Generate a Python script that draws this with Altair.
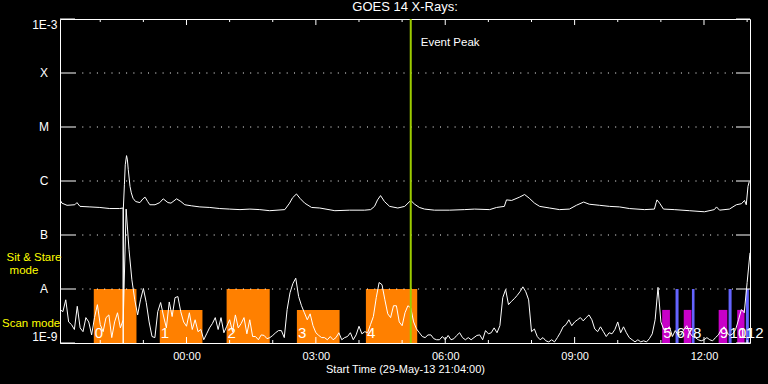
import altair as alt
import pandas as pd

FONT = "Liberation Sans"

# ---- time window: hours relative to 00:00 (30-May-13); starts 29-May-13 21:04
T_START = -2.9333
T_END = 13.0667

# ---- GOES long channel (1-8 A), log10 flux
long_hours = [-2.93, -2.89, -2.77, -2.59, -2.54, -2.47, -2.24, -2.01, -1.78, -1.55,
              -1.47, -1.468, -1.464, -1.44, -1.42, -1.39, -1.37, -1.35, -1.31, -1.28,
              -1.24, -1.18, -1.08, -1.01, -0.96, -0.90, -0.85, -0.73, -0.62, -0.54,
              -0.43, -0.36, -0.23, -0.13, -0.04, 0.12, 0.31, 0.54, 0.77, 1.00,
              1.24, 1.47, 1.70, 1.93, 2.28, 2.39, 2.46, 2.55, 2.63, 2.74,
              2.90, 3.09, 3.44, 3.78, 4.13, 4.27, 4.36, 4.43, 4.50, 4.59,
              4.71, 4.90, 5.06, 5.20, 5.29, 5.40, 5.52, 5.75, 6.10, 6.45,
              6.68, 7.03, 7.19, 7.37, 7.42, 7.54, 7.72, 7.84, 7.95, 8.07,
              8.19, 8.42, 8.65, 8.88, 9.04, 9.21, 9.34, 9.58, 9.81, 10.04,
              10.27, 10.62, 10.85, 10.89, 10.91, 10.97, 11.06, 11.31, 11.66, 12.01,
              12.24, 12.29, 12.36, 12.59, 12.75, 12.87, 12.94, 12.98, 13.02, 13.05]
long_log = [-6.35, -6.41, -6.45, -6.44, -6.40, -6.47, -6.48, -6.49, -6.51, -6.51,
            -6.50, -9.50, -6.50, -6.07, -5.70, -5.53, -5.61, -5.79, -6.10, -6.22,
            -6.32, -6.38, -6.40, -6.33, -6.30, -6.38, -6.44, -6.44, -6.40, -6.33,
            -6.40, -6.41, -6.33, -6.38, -6.44, -6.46, -6.48, -6.49, -6.51, -6.52,
            -6.53, -6.52, -6.53, -6.55, -6.53, -6.41, -6.31, -6.24, -6.32, -6.41,
            -6.49, -6.50, -6.55, -6.54, -6.54, -6.53, -6.47, -6.35, -6.27, -6.38,
            -6.47, -6.50, -6.47, -6.36, -6.43, -6.49, -6.52, -6.54, -6.54, -6.53,
            -6.52, -6.53, -6.49, -6.47, -6.35, -6.36, -6.30, -6.25, -6.32, -6.41,
            -6.47, -6.50, -6.53, -6.52, -6.45, -6.39, -6.43, -6.45, -6.47, -6.48,
            -6.51, -6.53, -6.52, -6.40, -6.35, -6.41, -6.52, -6.53, -6.55, -6.57,
            -6.53, -6.48, -6.54, -6.52, -6.44, -6.42, -6.36, -6.44, -6.10, -6.01]

# ---- GOES short channel (0.5-4 A), log10 flux, one reading every 4 minutes
SHORT_STEP_MIN = 4
short_log = [
    -8.38, -8.42, -8.20, -8.61, -8.66, -8.75, -8.32, -8.72, -8.79, -8.53,
    -8.61, -8.85, -8.53, -8.29, -8.66, -8.79, -8.53, -8.48, -8.90, -8.61,
    -8.44, -8.72, -8.57, -6.52, -7.27, -7.83, -8.20, -8.48, -8.20, -7.99,
    -8.25, -8.61, -8.88, -8.90, -8.42, -8.25, -8.50, -8.72, -8.24, -8.51,
    -8.16, -8.14, -8.42, -8.61, -8.69, -8.44, -8.75, -8.57, -8.79, -8.75,
    -8.94, -8.83, -8.72, -8.64, -8.53, -8.75, -8.53, -8.81, -8.69, -8.57,
    -8.79, -8.48, -8.72, -8.64, -8.53, -8.83, -8.57, -8.88, -8.88, -8.94,
    -8.85, -8.86, -8.92, -8.90, -8.86, -8.81, -8.77, -8.77, -8.90, -8.38,
    -8.07, -7.90, -7.80, -8.14, -8.31, -8.44, -8.57, -8.46, -8.68, -8.81,
    -8.86, -8.90, -8.90, -8.94, -8.88, -8.94, -8.90, -8.81, -8.94, -8.90,
    -8.88, -8.81, -8.94, -8.85, -8.69, -8.83, -8.79, -8.81, -8.66, -8.51,
    -8.16, -7.88, -7.92, -8.20, -8.46, -8.53, -8.31, -8.31, -8.61, -8.68,
    -8.44, -8.31, -8.35, -8.61, -8.74, -8.81, -8.88, -8.90, -8.85, -8.85,
    -8.92, -8.94, -8.94, -8.88, -8.94, -8.86, -8.94, -8.92, -8.86, -8.81,
    -8.90, -8.94, -8.90, -8.94, -8.90, -8.86, -8.85, -8.94, -8.77, -8.83,
    -8.81, -8.72, -8.81, -8.68, -8.16, -8.01, -8.29, -8.23, -8.18, -8.12,
    -8.05, -7.96, -8.05, -8.20, -8.79, -8.74, -8.88, -8.94, -8.90, -8.96,
    -8.98, -8.94, -8.98, -8.90, -8.81, -8.70, -8.66, -8.57, -8.68, -8.61,
    -8.57, -8.53, -8.59, -8.53, -8.48, -8.57, -8.74, -8.79, -8.70, -8.79,
    -8.88, -8.81, -8.83, -8.75, -8.61, -8.81, -8.70, -8.81, -8.90, -8.94,
    -8.98, -8.94, -8.98, -8.96, -8.98, -8.92, -8.83, -8.57, -7.97, -8.61,
    -8.75, -8.75, -8.70, -8.88, -8.77, -8.85, -8.85, -8.75, -8.68, -8.81,
    -8.88, -8.90, -8.94, -8.96, -8.94, -8.90, -8.94, -8.96, -8.90, -8.85,
    -8.75, -8.70, -8.81, -8.86, -8.83, -8.75, -8.57, -8.38, -8.44, -7.88,
    -7.33]

# ---- observation intervals (hours) with their numbers
bar_start = [-2.15, -0.62, 0.93, 2.56, 4.16, 11.03, 11.34, 11.53, 11.72, 12.34, 12.57, 12.77, 12.97]
bar_end = [-1.16, 0.37, 1.93, 3.55, 5.35, 11.21, 11.41, 11.71, 11.78, 12.54, 12.64, 12.94, 13.04]
bar_top = [1e-8, 4.1e-9, 1e-8, 4.1e-9, 1e-8, 4.1e-9, 1e-8, 4.1e-9, 1e-8, 4.1e-9, 1e-8, 4.1e-9, 1e-8]
bar_kind = ["a", "a", "a", "a", "a", "b", "c", "b", "c", "b", "c", "b", "c"]
bar_label = [str(i) for i in range(13)]
kind_domain = ["a", "b", "c"]
kind_colors = ["#ff8000", "#c800c8", "#6464ff"]

event_peak = 5.20

decades = [1e-9, 1e-8, 1e-7, 1e-6, 1e-5, 1e-4, 1e-3]
class_values = [1e-8, 1e-7, 1e-6, 1e-5, 1e-4]
class_letters = ["A", "B", "C", "M", "X"]
hour_marks = list(range(-2, 14))
major_hours = [0, 3, 6, 9, 12]

# ---- tables
long_df = pd.DataFrame({"hour": long_hours, "flux": [10 ** v for v in long_log]})
short_df = pd.DataFrame({
    "hour": [T_START + i * SHORT_STEP_MIN / 60 for i in range(len(short_log))],
    "flux": [10 ** v for v in short_log],
})
bars_df = pd.DataFrame({"start": bar_start, "end": bar_end, "top": bar_top,
                        "bottom": [1e-9] * len(bar_start), "kind": bar_kind,
                        "label": bar_label})
dec_df = pd.DataFrame({"v": decades})
grid_df = pd.DataFrame({"v": class_values})
cls_df = pd.DataFrame({"v": class_values, "t": class_letters})
minor_df = pd.DataFrame({"h": [h for h in hour_marks if h not in major_hours]})
major_df = pd.DataFrame({"h": major_hours})
ev_df = pd.DataFrame({"h": [event_peak], "t": ["Event Peak"]})

W, H = 690, 324
xs = alt.Scale(domain=[T_START, T_END], nice=False, zero=False)
ys = alt.Scale(type="log", domain=[1e-9, 1e-3], nice=False)

x_axis = alt.Axis(values=major_hours,
                  labelExpr="(datum.value < 10 ? '0' : '') + datum.value + ':00'",
                  ticks=False, domain=False, grid=False,
                  labelColor="white", labelFont=FONT, labelFontSize=11, labelPadding=7,
                  title="Start Time (29-May-13 21:04:00)", titleColor="white",
                  titleFont=FONT, titleFontSize=11, titleFontWeight="normal",
                  titlePadding=2)
y_axis = alt.Axis(values=[1e-9, 1e-3],
                  labelExpr="datum.value > 1e-6 ? '1E-3' : '1E-9'",
                  labelFlush=True, ticks=False, domain=False, grid=False,
                  labelColor="white", labelFont=FONT, labelFontSize=12, labelPadding=3,
                  title=None)

bars = alt.Chart(bars_df).mark_rect(clip=True).encode(
    x=alt.X("start:Q", scale=xs, axis=x_axis),
    x2="end:Q",
    y=alt.Y("top:Q", scale=ys, axis=y_axis),
    y2="bottom:Q",
    color=alt.Color("kind:N", scale=alt.Scale(domain=kind_domain, range=kind_colors), legend=None),
)

grid = alt.Chart(grid_df).mark_rule(color="white", strokeWidth=1, strokeDash=[1, 6.3]).encode(
    y=alt.Y("v:Q", scale=ys), x=alt.value(15), x2=alt.value(W - 15))
lticks = alt.Chart(dec_df).mark_rule(color="white").encode(
    y=alt.Y("v:Q", scale=ys), x=alt.value(0), x2=alt.value(15))
rticks = alt.Chart(dec_df).mark_rule(color="white").encode(
    y=alt.Y("v:Q", scale=ys), x=alt.value(W - 14), x2=alt.value(W))
tmin = alt.Chart(minor_df).mark_rule(color="white").encode(
    x=alt.X("h:Q", scale=xs), y=alt.value(0), y2=alt.value(3))
tmaj = alt.Chart(major_df).mark_rule(color="white").encode(
    x=alt.X("h:Q", scale=xs), y=alt.value(0), y2=alt.value(6))
bmin = alt.Chart(minor_df).mark_rule(color="white").encode(
    x=alt.X("h:Q", scale=xs), y=alt.value(H - 3), y2=alt.value(H))
bmaj = alt.Chart(major_df).mark_rule(color="white").encode(
    x=alt.X("h:Q", scale=xs), y=alt.value(H - 6), y2=alt.value(H))

short_line = alt.Chart(short_df).mark_line(color="white", strokeWidth=1, clip=True).encode(
    x=alt.X("hour:Q", scale=xs), y=alt.Y("flux:Q", scale=ys))
long_line = alt.Chart(long_df).mark_line(color="white", strokeWidth=1, clip=True).encode(
    x=alt.X("hour:Q", scale=xs), y=alt.Y("flux:Q", scale=ys))

ev_rule = alt.Chart(ev_df).mark_rule(color="#9ccc00", strokeWidth=2).encode(
    x=alt.X("h:Q", scale=xs))
ev_text = alt.Chart(ev_df).mark_text(color="white", font=FONT, fontSize=11.5, align="left",
                                     baseline="middle", dx=10).encode(
    x=alt.X("h:Q", scale=xs), y=alt.value(24), text="t:N")

num_text = alt.Chart(bars_df).mark_text(color="white", font="Liberation Sans Narrow, Liberation Sans",
                                        fontSize=15, align="left", baseline="alphabetic", dx=1).encode(
    x=alt.X("start:Q", scale=xs), y=alt.value(319), text="label:N")

cls_text = alt.Chart(cls_df).mark_text(color="white", font=FONT, fontSize=12, align="center",
                                       baseline="middle").encode(
    y=alt.Y("v:Q", scale=ys), x=alt.value(-16), text="t:N")

mode1 = alt.Chart(pd.DataFrame({"t": ["Sit & Stare"]})).mark_text(
    color="#ffff00", font=FONT, fontSize=11.5, align="center", baseline="middle").encode(
    x=alt.value(-26), y=alt.value(239), text="t:N")
mode2 = alt.Chart(pd.DataFrame({"t": ["mode"]})).mark_text(
    color="#ffff00", font=FONT, fontSize=11.5, align="center", baseline="middle").encode(
    x=alt.value(-36), y=alt.value(252), text="t:N")
mode3 = alt.Chart(pd.DataFrame({"t": ["Scan mode"]})).mark_text(
    color="#ffff00", font=FONT, fontSize=11.5, align="left", baseline="middle").encode(
    x=alt.value(-58), y=alt.value(305), text="t:N")

chart = alt.layer(
    bars, grid, lticks, rticks, tmin, tmaj, bmin, bmaj,
    short_line, long_line, ev_rule, ev_text, num_text, cls_text, mode1, mode2, mode3,
).properties(
    width=W, height=H,
    title=alt.Title("GOES 14 X-Rays:", color="white", font=FONT, fontSize=13,
                    fontWeight="normal", anchor="middle", offset=4),
    autosize="none",
    padding={"left": 60, "top": 19, "right": 18, "bottom": 41},
    background="black",
).configure_view(stroke="white", strokeWidth=1)

chart.save("out.html", embed_options={"renderer": "svg", "actions": False})
